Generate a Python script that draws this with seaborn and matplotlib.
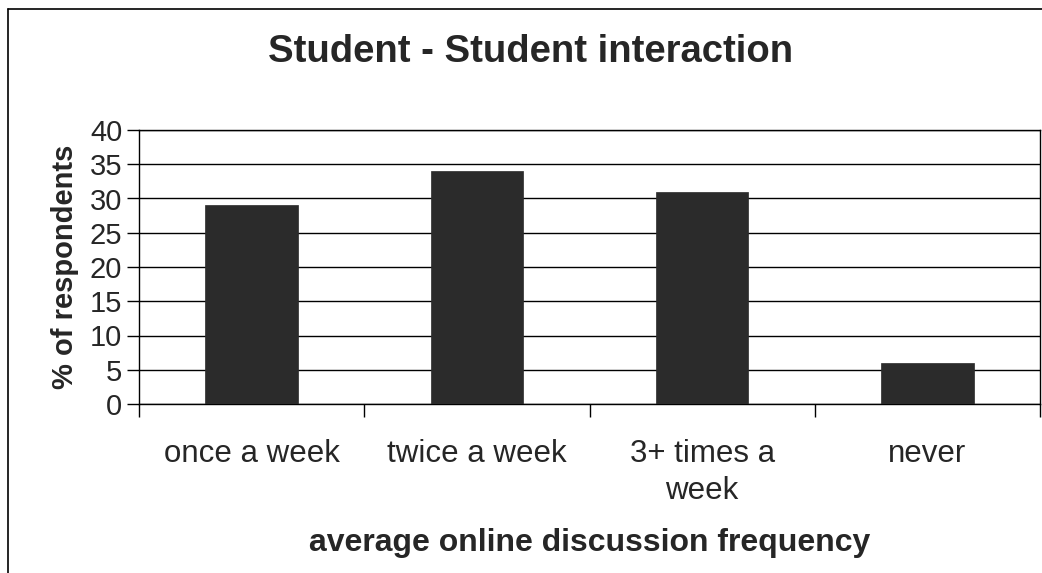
import matplotlib
matplotlib.use("Agg")
import matplotlib.pyplot as plt
from matplotlib.lines import Line2D
import seaborn as sns
import pandas as pd

# values
categories = ["once a week", "twice a week", "3+ times a\nweek", "never"]
percent = [29, 34, 31, 6]
y_ticks = [0, 5, 10, 15, 20, 25, 30, 35, 40]

sns.set_style("white")
plt.rcParams["font.family"] = ["Liberation Sans", "DejaVu Sans"]

df = pd.DataFrame({"frequency": categories, "percent": percent})

fig = plt.figure(figsize=(10.42, 5.73), dpi=100)
ax = fig.add_axes([139 / 1042, 1 - 404 / 573, (1040 - 139) / 1042, (404 - 130) / 573])

sns.barplot(data=df, x="frequency", y="percent", color="#2b2b2b",
            saturation=1, width=0.41, ax=ax, zorder=3,
            edgecolor="#2b2b2b", linewidth=0.5)

ax.set_ylim(0, 40)
ax.set_xlim(-0.5, len(categories) - 0.5)
ax.set_yticks(y_ticks)
ax.yaxis.grid(True, color="black", linewidth=1.0, zorder=0)
ax.set_axisbelow(True)

# category separators as tick marks, labels centred without ticks
ax.set_xticks([i - 0.5 for i in range(len(categories) + 1)], minor=True)
ax.tick_params(axis="x", which="minor", bottom=True, length=9, width=1,
               color="black", direction="out")
ax.tick_params(axis="x", which="major", bottom=True, length=0, pad=25, labelsize=22.5)
ax.tick_params(axis="y", left=True, length=9, width=1, color="black", direction="out",
               labelsize=21, pad=3)
for lbl in ax.get_xticklabels():
    lbl.set_linespacing(1.3)

for side in ["left", "bottom", "right", "top"]:
    ax.spines[side].set_visible(True)
    ax.spines[side].set_color("black")
    ax.spines[side].set_linewidth(1.0)

ax.set_xlabel("average online discussion frequency", fontsize=23,
              fontweight="bold", labelpad=16)
ax.set_ylabel("% of respondents", fontsize=21, fontweight="bold", labelpad=8)

fig.text(0.509, 1 - 52 / 573, "Student - Student interaction", ha="center",
         va="center", fontsize=27.5, fontweight="bold")

# outer chart frame (top and left edges visible in the scan)
fig.add_artist(Line2D([8 / 1042, 1], [1 - 9 / 573, 1 - 9 / 573],
                      color="black", linewidth=1.2, transform=fig.transFigure))
fig.add_artist(Line2D([8 / 1042, 8 / 1042], [0, 1 - 9 / 573],
                      color="black", linewidth=1.2, transform=fig.transFigure))

fig.savefig("out.png", dpi=100)
